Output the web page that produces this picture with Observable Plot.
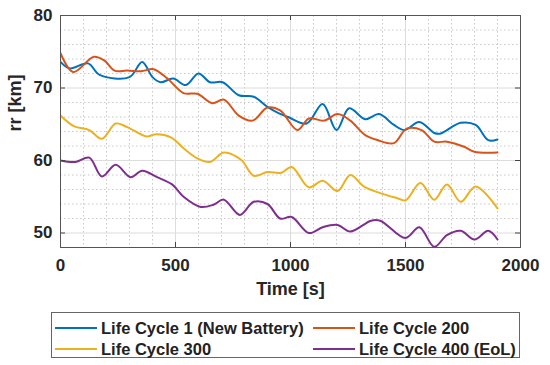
<!DOCTYPE html>
<html>
<head>
<meta charset="utf-8">
<script src="https://cdn.jsdelivr.net/npm/d3@7"></script>
<script src="https://cdn.jsdelivr.net/npm/@observablehq/plot@0.6"></script>
<style>
  body { margin: 0; background: #fff; font-family: "Liberation Sans", Arial, sans-serif; }
  #chart svg { display: block; }
  #legend {
    position: relative; margin-left: 51px; margin-top: 7px; width: 467px; height: 44px;
    border: 1px solid #666; box-sizing: content-box; font-weight: bold; font-size: 16.5px; color: #222;
  }
  .item { position: absolute; display: flex; align-items: center; height: 20px; }
  .sw { width: 42px; height: 0; border-top: 2px solid; margin-right: 4px; }
</style>
</head>
<body>
<div id="chart"></div>
<div id="legend"></div>
<script>
const seriesNames = ["Life Cycle 1 (New Battery)", "Life Cycle 200", "Life Cycle 300", "Life Cycle 400 (EoL)"];
const seriesColors = ["#0072BD", "#D95319", "#EDB120", "#7E2F8E"];

const t1 = [0,40,120,170,300,355,400,435,490,545,600,650,705,775,840,900,950,990,1070,1140,1200,1255,1325,1385,1450,1495,1560,1625,1650,1740,1805,1860,1900];
const v1 = [73.6,72.7,73.4,71.8,71.5,73.6,71.5,70.8,71.3,70.4,72.0,70.8,70.8,69.0,68.8,67.4,66.5,66.0,65.1,67.8,64.2,67.2,65.7,66.4,64.9,64.2,65.3,63.8,63.7,65.2,64.9,62.8,62.9];

const t200 = [0,55,145,190,235,290,350,405,465,535,595,660,710,775,835,900,955,1030,1080,1145,1205,1260,1325,1380,1450,1505,1570,1625,1680,1755,1800,1900];
const v200 = [74.8,72.2,74.3,73.8,72.4,72.4,72.3,72.6,71.3,69.3,69.2,67.9,68.4,66.2,65.5,67.3,66.9,64.2,65.8,65.5,66.4,65.5,63.5,62.8,62.4,64.4,64.2,62.6,62.6,61.9,61.2,61.1];

const t300 = [0,60,125,180,240,290,375,410,480,535,595,650,710,785,840,900,960,1005,1080,1140,1205,1260,1320,1390,1465,1500,1565,1625,1680,1740,1805,1900];
const v300 = [66.2,64.7,64.2,63.0,65.1,64.6,63.3,63.6,63.2,61.7,60.3,59.8,61.1,60.1,57.9,58.4,58.3,59.1,56.3,57.2,55.8,58.0,56.4,55.5,54.8,54.5,56.9,54.6,56.7,54.3,56.4,53.4];

const t400 = [0,65,125,180,240,305,355,420,485,535,610,665,710,780,840,900,955,1005,1080,1140,1205,1260,1350,1390,1500,1560,1625,1680,1740,1800,1860,1900];
const v400 = [60.0,59.8,60.4,57.8,59.4,57.7,58.6,57.7,56.7,55.0,53.6,53.9,54.6,52.5,54.3,54.0,52.0,52.2,50.0,50.8,51.1,50.2,51.7,51.7,49.3,50.8,48.1,49.7,50.3,49.1,50.3,49.1];

const xTicks = [0, 500, 1000, 1500, 2000];
const yTicks = [50, 60, 70, 80];
const xLabel = "Time [s]";
const yLabel = "rr [km]";
const xMinor = d3.range(0, 2001, 100).filter(d => d % 500 !== 0);
const yMinor = d3.range(48, 81, 2).filter(d => d % 10 !== 0);

const allT = [t1, t200, t300, t400];
const allV = [v1, v200, v300, v400];
const data = [];
allT.forEach((ts, i) => ts.forEach((t, j) => data.push({t, v: allV[i][j], s: seriesNames[i]})));

const xDom = [0, 2000], yDom = [48, 80];
const tickLenX = 5 * (xDom[1] - xDom[0]) / 460;
const tickLenY = 5 * (yDom[1] - yDom[0]) / 232;

const chart = Plot.plot({
  width: 550,
  height: 305,
  marginLeft: 60,
  marginRight: 30,
  marginTop: 15,
  marginBottom: 58,
  style: { fontFamily: "'Liberation Sans', Arial, sans-serif", fontWeight: "bold", fontSize: "17px", color: "#262626", background: "#fff" },
  x: { domain: xDom, ticks: xTicks, tickSize: 0, tickPadding: 11, tickFormat: d => String(d), label: null },
  y: { domain: yDom, ticks: yTicks, tickSize: 0, tickPadding: 8, label: null },
  color: { domain: seriesNames, range: seriesColors },
  marks: [
    Plot.ruleX(xMinor, { x: d => d, stroke: "#c8c8c8", strokeDasharray: "1.5,2.5", strokeWidth: 1 }),
    Plot.ruleY(yMinor, { y: d => d, stroke: "#c8c8c8", strokeDasharray: "1.5,2.5", strokeWidth: 1 }),
    Plot.ruleX(xTicks, { x: d => d, stroke: "#dcdcdc", strokeWidth: 1 }),
    Plot.ruleY(yTicks, { y: d => d, stroke: "#dcdcdc", strokeWidth: 1 }),
    Plot.line(data, { x: "t", y: "v", z: "s", stroke: "s", strokeWidth: 2, curve: "catmull-rom", clip: true }),
    Plot.ruleX(xTicks, { x: d => d, y1: yDom[0], y2: yDom[0] + tickLenY, stroke: "#444", strokeWidth: 1 }),
    Plot.ruleX(xTicks, { x: d => d, y1: yDom[1], y2: yDom[1] - tickLenY, stroke: "#444", strokeWidth: 1 }),
    Plot.ruleY(yTicks, { y: d => d, x1: xDom[0], x2: xDom[0] + tickLenX, stroke: "#444", strokeWidth: 1 }),
    Plot.ruleY(yTicks, { y: d => d, x1: xDom[1], x2: xDom[1] - tickLenX, stroke: "#444", strokeWidth: 1 }),
    Plot.frame({ stroke: "#555", strokeWidth: 1 }),
    Plot.text([xLabel], { frameAnchor: "bottom", dy: 47, text: d => d, fontSize: 18, fontWeight: "bold", fill: "#262626" }),
    Plot.text([yLabel], { frameAnchor: "left", dx: -45, rotate: -90, text: d => d, fontSize: 18, fontWeight: "bold", fill: "#262626" })
  ]
});
document.getElementById("chart").appendChild(chart);

const legend = document.getElementById("legend");
const pos = [[3, 5], [261, 5], [3, 26], [261, 26]];
seriesNames.forEach((name, i) => {
  const it = document.createElement("div");
  it.className = "item";
  it.style.left = pos[i][0] + "px";
  it.style.top = (pos[i][1]) + "px";
  const sw = document.createElement("span");
  sw.className = "sw";
  sw.style.borderTopColor = seriesColors[i];
  const tx = document.createElement("span");
  tx.textContent = name;
  it.appendChild(sw); it.appendChild(tx);
  legend.appendChild(it);
});
</script>
</body>
</html>
